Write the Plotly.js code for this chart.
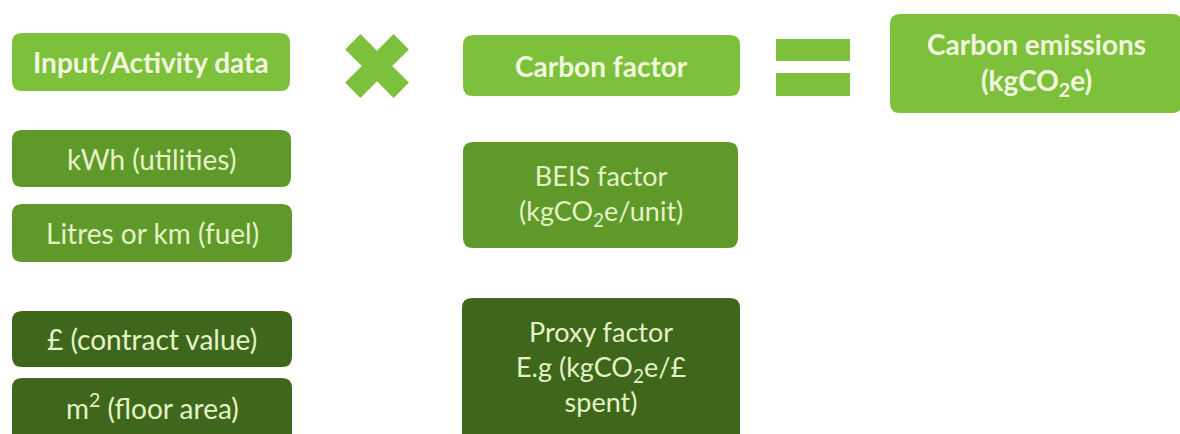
<!DOCTYPE html>
<html>
<head>
<meta charset="utf-8">
<script src="https://cdn.plot.ly/plotly-3.0.1.min.js"></script>
<style>html,body{margin:0;padding:0;background:#fff;}#chart{width:1180px;height:434px;}</style>
</head>
<body>
<div id="chart"></div>
<script>
// Labels (content)
const headerLabels = ["Input/Activity data", "Carbon factor", "Carbon emissions<br>(kgCO<sub>2</sub>e)"];
const activityLabels = ["kWh (utilities)", "Litres or km (fuel)", "£ (contract value)", "m<sup>2</sup> (floor area)"];
const factorLabels = ["BEIS factor<br>(kgCO<sub>2</sub>e/unit)", "Proxy factor<br>E.g (kgCO<sub>2</sub>e/£<br>spent)"];
const operatorLabels = ["×", "="];

// Layout geometry (pixels, y downward)
const headerBoxes = [[12, 290, 33, 91], [463, 740, 35, 96], [890, 1182, 14, 113]];
const activityBoxes = [[12, 291, 130, 187], [12, 292, 204, 262], [12, 292, 311, 367], [12, 292, 378, 444]];
const factorBoxes = [[463, 738, 142, 248], [462, 740, 298, 444]];
const activityTone = ["mid", "mid", "dark", "dark"];
const factorTone = ["mid", "dark"];

const colors = {light: "#7cc03b", mid: "#5e992a", dark: "#3e671c"};
const textLight = "#f1f8dd";
const textSoft = "#e4f2c6";
const FONT = "Lato, 'Open Sans', sans-serif";

function roundRect(x0, x1, y0, y1, r) {
  return `M ${x0 + r} ${y0} L ${x1 - r} ${y0} Q ${x1} ${y0} ${x1} ${y0 + r} ` +
         `L ${x1} ${y1 - r} Q ${x1} ${y1} ${x1 - r} ${y1} L ${x0 + r} ${y1} ` +
         `Q ${x0} ${y1} ${x0} ${y1 - r} L ${x0} ${y0 + r} Q ${x0} ${y0} ${x0 + r} ${y0} Z`;
}

const shapes = [];
const annotations = [];

function addBox(b, tone, label, bold, size) {
  shapes.push({type: "path", xref: "x", yref: "y", path: roundRect(b[0], b[1], b[2], b[3], 10),
    fillcolor: colors[tone], line: {width: 0}, layer: "below"});
  const yc = (b[2] + Math.min(b[3], 434)) / 2;
  annotations.push({x: (b[0] + b[1]) / 2, y: yc, xref: "x", yref: "y", text: bold ? "<b>" + label + "</b>" : label,
    showarrow: false, xanchor: "center", yanchor: "middle", align: "center",
    font: {family: FONT, size: size, color: bold ? textLight : textSoft}});
}

headerLabels.forEach((l, i) => addBox(headerBoxes[i], "light", l, true, 28));
activityLabels.forEach((l, i) => addBox(activityBoxes[i], activityTone[i], l, false, 28));
factorLabels.forEach((l, i) => addBox(factorBoxes[i], factorTone[i], l, false, 27));

// Multiplication sign (operatorLabels[0]) drawn as a thick cross
(function () {
  const cx = 377, cy = 66, h = 35, w = 11;
  const pts = [];
  const base = [[-w, -h], [w, -h], [w, -w], [h, -w], [h, w], [w, w], [w, h], [-w, h], [-w, w], [-h, w], [-h, -w], [-w, -w]];
  const c = Math.SQRT1_2;
  base.forEach(p => {
    const x = (p[0] - p[1]) * c * 0.98, y = (p[0] + p[1]) * c * 0.98;
    pts.push([cx + x, cy + y]);
  });
  shapes.push({type: "path", xref: "x", yref: "y",
    path: "M " + pts.map(p => p[0].toFixed(1) + " " + p[1].toFixed(1)).join(" L ") + " Z",
    fillcolor: colors.light, line: {width: 0}});
})();
// Equals sign (operatorLabels[1])
[[39, 61], [73, 96]].forEach(r => {
  shapes.push({type: "rect", xref: "x", yref: "y", x0: 776, x1: 850, y0: r[0], y1: r[1],
    fillcolor: colors.light, line: {width: 0}});
});

Plotly.newPlot("chart", [{x: [0, 1180], y: [0, 434], mode: "markers", marker: {opacity: 0}, hoverinfo: "skip", showlegend: false}], {
  width: 1180, height: 434,
  margin: {l: 0, r: 0, t: 0, b: 0},
  paper_bgcolor: "#ffffff", plot_bgcolor: "#ffffff",
  xaxis: {range: [0, 1180], visible: false, fixedrange: true},
  yaxis: {range: [434, 0], visible: false, fixedrange: true},
  shapes: shapes,
  annotations: annotations,
  showlegend: false
}, {staticPlot: true, displayModeBar: false});
</script>
</body>
</html>
